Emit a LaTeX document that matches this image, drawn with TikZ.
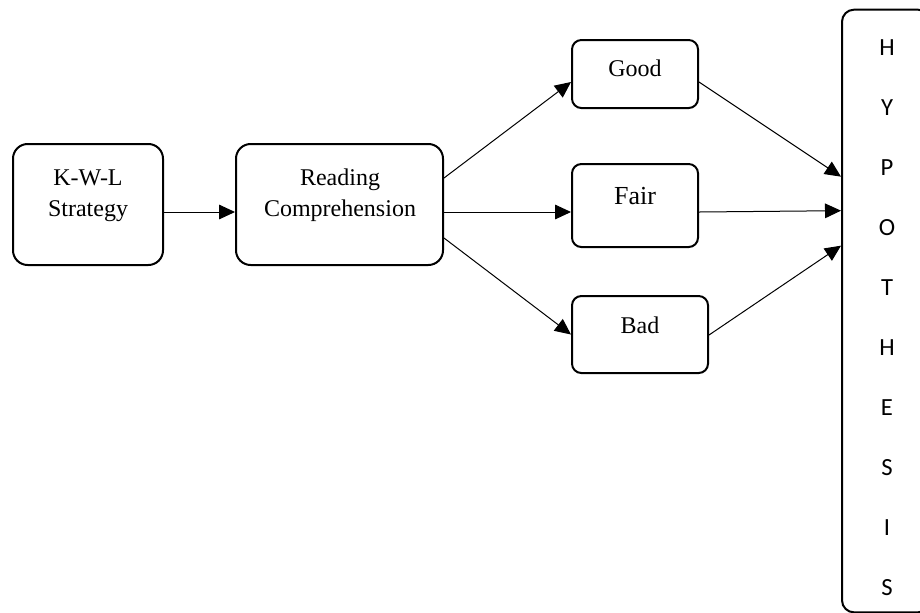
\documentclass[tikz,border=0pt]{standalone}
\usepackage{fontspec}
\setmainfont{Liberation Serif}
\newfontfamily\hypfont{Carlito}
\usetikzlibrary{arrows.meta,calc}
\begin{document}
\begin{tikzpicture}[x=0.75pt,y=-0.75pt,
 bigbox/.style={draw,line width=1.5pt,rounded corners=11pt,inner sep=0pt,minimum height=90.75pt},
 smallbox/.style={draw,line width=1.5pt,rounded corners=7pt,inner sep=0pt},
 lbl/.style={font=\fontsize{18}{22}\selectfont,inner sep=0pt,anchor=base},
 arr/.style={line width=0.75pt,-{Triangle[length=12pt,width=11pt]}},
 hl/.style={font=\hypfont\fontsize{18.5}{22}\selectfont,inner sep=0pt}]
\useasboundingbox (0,0) rectangle (920,612);
\clip (0,0) rectangle (920,612);
% boxes
\node[bigbox,minimum width=112.5pt] (kwl) at (88,204.5) {};
\node[bigbox,minimum width=155.25pt] (rc) at (339.5,204.5) {};
\node[smallbox,minimum width=94.5pt,minimum height=51pt] (good) at (635,74) {};
\node[smallbox,minimum width=94.5pt,minimum height=62.25pt] (fair) at (635,205.5) {};
\node[smallbox,minimum width=102pt,minimum height=57.75pt] (bad) at (640,334.5) {};
\node[draw,line width=1.5pt,rounded corners=9pt,inner sep=0pt,minimum width=66pt,minimum height=452pt] (hyp) at (886,311) {};
% labels
\node[lbl] (kwl1) at (88,185) {K-W-L};
\node[lbl] (kwl2) at (88,216) {Strategy};
\node[lbl] (rc1) at (340,185) {Reading};
\node[lbl] (rc2) at (340,216) {Comprehension};
\node[lbl] (goodt) at (635,76) {Good};
\node[lbl,font=\fontsize{19.5}{22}\selectfont] (fairt) at (635,204) {Fair};
\node[lbl] (badt) at (640,333) {Bad};
\foreach \c [count=\i] in {H,Y,P,O,T,H,E,S,I,S}
  \node[hl] (hyp\i) at (887,{48+60*(\i-1)}) {\c};
% connectors
\draw[arr] ($(kwl.east)+(0,7.5)$) -- ($(rc.west)+(0,7.5)$);
\draw[arr] ($(rc.east)+(0,-26.5)$) -- ($(good.west)+(0,8)$);
\draw[arr] ($(rc.east)+(0,7.5)$) -- ($(fair.west)+(0,6.5)$);
\draw[arr] ($(rc.east)+(0,33.5)$) -- ($(bad.west)+(0,0)$);
\draw[arr] ($(good.east)+(0,8)$) -- ($(hyp.north west)+(0,168)$);
\draw[arr] ($(fair.east)+(0,6.5)$) -- ($(hyp.north west)+(0,202)$);
\draw[arr] ($(bad.east)+(0,0.5)$) -- ($(hyp.north west)+(0,237)$);
\end{tikzpicture}
\end{document}
